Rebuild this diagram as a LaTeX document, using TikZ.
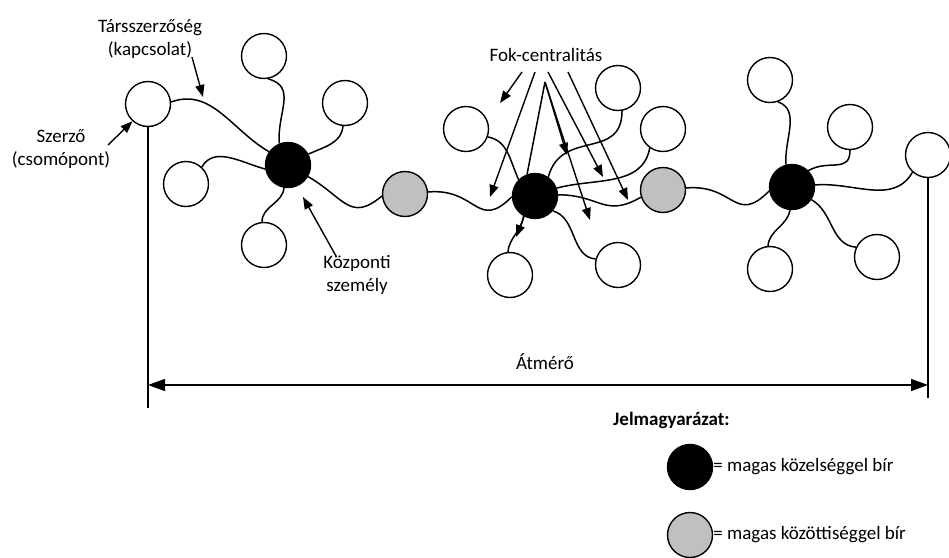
\documentclass[tikz,border=0pt]{standalone}
\usepackage{fontspec}
\setmainfont{Carlito}
\usetikzlibrary{arrows.meta,calc}
\definecolor{nodegray}{RGB}{192,192,192}
\begin{document}
\begin{tikzpicture}[x=1pt,y=1pt,
  every node/.style={font=\fontsize{19}{23}\selectfont},
  wc/.style={circle,draw,line width=1.4pt,minimum size=45pt,inner sep=0pt,fill=white},
  bc/.style={wc,fill=black},
  gc/.style={wc,fill=nodegray},
  edge/.style={line width=1.5pt},
  arr/.style={line width=1.4pt,-{Triangle[length=12pt,width=9pt]}},
  dim/.style={line width=1.4pt,{Triangle[length=17pt,width=12pt]}-{Triangle[length=17pt,width=12pt]}},
  lbl/.style={align=center,inner sep=0pt},
]
\useasboundingbox[fill=white] (0,0) rectangle (949,-557);

% nodes
\node[wc] (a1) at (148,-104) {};
\node[wc] (l1) at (264,-56) {};
\node[wc] (l2) at (345,-103) {};
\node[wc] (l3) at (186,-184) {};
\node[wc] (l4) at (264,-245) {};
\node[bc] (L) at (288,-165) {};
\node[gc] (g1) at (405,-194) {};
\node[bc] (M) at (535,-196) {};
\node[wc] (m1) at (466,-129) {};
\node[wc] (m2) at (618,-88) {};
\node[wc] (m3) at (663,-129) {};
\node[gc] (g2) at (663,-190) {};
\node[wc] (m4) at (510,-275) {};
\node[wc] (m5) at (618,-265) {};
\node[bc] (R) at (792,-187) {};
\node[wc] (r1) at (770,-80) {};
\node[wc] (r2) at (850,-127) {};
\node[wc] (a2) at (928,-155) {};
\node[wc] (r3) at (770,-269) {};
\node[wc] (r4) at (877,-257) {};

% edges left cluster
\draw[edge] (a1.5) to[out=20,in=150] (L.145);
\draw[edge] (l1.-80) to[out=-15,in=95,looseness=1.2] (L.112);
\draw[edge] (l2.-95) to[out=-95,in=25] (L.28);
\draw[edge] (l3.47) to[out=60,in=165] (L.190);
\draw[edge] (l4.95) to[out=90,in=-95] (L.-100);
\draw[edge] (L.-30) to[out=-30,in=220,looseness=1.4] (g1.185);
\draw[edge] (g1.5) to[out=5,in=225,looseness=1.5] (M.182);
% middle cluster
\draw[edge] (m1.-20) to[out=-10,in=115] (M.135);
\draw[edge] (m2.-80) to[out=-90,in=75,looseness=1.3] (M.55);
\draw[edge] (m3.235) to[out=-100,in=15] (M.20);
\draw[edge] (M.3) to[out=0,in=210,looseness=1.3] (g2.198);
\draw[edge] (M.-120) to[out=-95,in=85] (m4.95);
\draw[edge] (M.-40) to[out=-15,in=175] (m5.165);
\draw[edge] (g2.5) to[out=5,in=225,looseness=1.5] (R.190);
% right cluster
\draw[edge] (r1.-70) to[out=-20,in=95] (R.105);
\draw[edge] (r2.-90) to[out=-90,in=30,looseness=1.3] (R.45);
\draw[edge] (a2.228) to[out=-120,in=5] (R.5);
\draw[edge] (R.-95) to[out=-100,in=85] (r3.95);
\draw[edge] (R.-33) to[out=-30,in=175] (r4.155);

% labels
\node[lbl] (ts) at (150,-39) {Társszerzőség\\(kapcsolat)};
\node[lbl] (sz) at (61,-149) {Szerző\\(csomópont)};
\node[lbl] (kp) at (357,-275) {Központi\\személy};
\node[lbl] (fok) at (546,-55) {Fok-centralitás};
\node[lbl] (atm) at (545,-362) {Átmérő};

\coordinate (tsS) at (192,-57); \coordinate (tsT) at (203,-97);
\draw[arr] (tsS) -- (tsT);
\coordinate (szS) at (108,-145);
\draw[arr] (szS) -- (a1.228);
\coordinate (kpS) at (336,-256); \coordinate (kpT) at (303,-197);
\draw[arr] (kpS) -- (kpT);

% Fok-centralitas arrows
\coordinate (f1) at (522,-72); \coordinate (t1) at (500,-103);
\coordinate (f2) at (535,-72); \coordinate (t2) at (490,-197);
\coordinate (f3) at (545,-82);
\coordinate (t4) at (567,-155);
\coordinate (t5) at (590,-220);
\coordinate (f6) at (548,-72); \coordinate (t6) at (603,-177);
\coordinate (f7) at (568,-72); \coordinate (t7) at (628,-200);
\coordinate (t8) at (516,-237);
\draw[arr] (f1) -- (t1);
\draw[arr] (f2) -- (t2);
\draw[edge] (f3) -- (M.110);
\draw[arr] (f3) -- (t4);
\draw[arr] (f3) -- (t5);
\draw[arr] (f6) -- (t6);
\draw[arr] (f7) -- (t7);
\draw[arr] (M.-118) -- (t8);

% diameter
\coordinate (lb) at (148,-408);
\coordinate (rb) at (928,-398);
\coordinate (dl) at (148,-385);
\coordinate (dr) at (928,-385);
\draw[line width=1.4pt] (a1.south) -- (lb);
\draw[line width=1.4pt] (a2.south) -- (rb);
\draw[dim] (dl) -- (dr);

% legend
\node[anchor=west,inner sep=0pt,font=\fontsize{19}{23}\selectfont\bfseries] (leg) at (613,-420) {Jelmagyarázat:};
\node[bc] (lk1) at (690,-467) {};
\node[anchor=west,inner sep=0pt] (lt1) at (lk1.east) {= magas közelséggel bír};
\node[gc] (lk2) at (690,-535) {};
\node[anchor=west,inner sep=0pt] (lt2) at (lk2.east) {= magas közöttiséggel bír};
\end{tikzpicture}
\end{document}
